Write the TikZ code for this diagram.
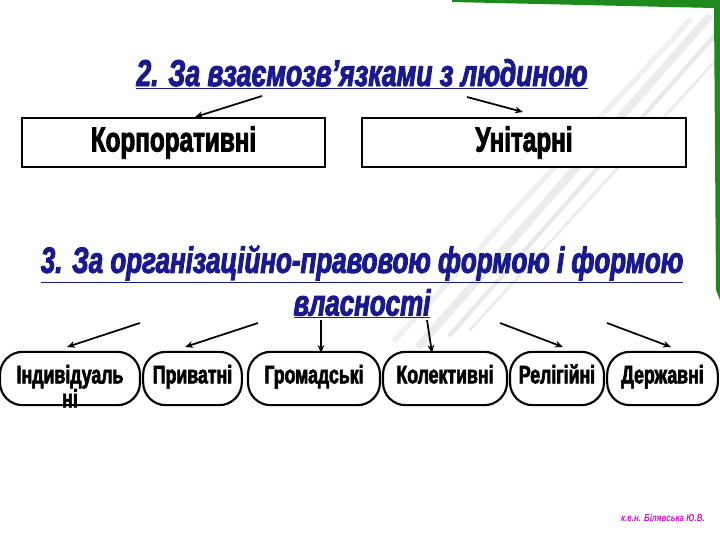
\documentclass[tikz,border=0pt]{standalone}
\usepackage{fontspec}
\usetikzlibrary{arrows.meta}
\newfontfamily\impfont[FakeStretch=0.71,FakeBold=2.5]{Liberation Sans}
\newfontfamily\boxfont[FakeStretch=0.70,FakeBold=2.5]{Liberation Sans}
\newfontfamily\footfont[FakeStretch=0.8]{Liberation Sans}
\definecolor{titleblue}{HTML}{1A1A8F}
\definecolor{framegreen}{HTML}{1E8A1E}
\definecolor{footmag}{HTML}{D010D0}
\tikzset{
  titletext/.style={font=\impfont\bfseries\itshape\fontsize{28}{32}\selectfont, text=titleblue, inner sep=0pt, align=center},
  sqbox/.style={draw=black, line width=1.6pt, fill=white, inner sep=0pt, font=\boxfont\bfseries\fontsize{26}{28}\selectfont},
  rndbox/.style={draw=black, line width=1.6pt, fill=white, rounded corners=17pt, inner sep=0pt, font=\boxfont\bfseries\fontsize{19}{20}\selectfont, align=center, text height=0.9em, text depth=0.18em},
  arr/.style={draw=black, line width=1.3pt, -{Stealth[length=6pt,width=5pt]}},
  stripe/.style={line cap=round}
}
\begin{document}
\begin{tikzpicture}[x=0.75pt,y=-0.75pt]
\useasboundingbox (0,0) rectangle (720,540);
\fill[white] (0,0) rectangle (720,540);
% decorative stripes
\draw[stripe, line width=6pt, draw=gray!15] (708,18) -- (420,345);
\draw[stripe, line width=3pt, draw=gray!18] (715,35) -- (450,335);
\draw[stripe, line width=4pt, draw=gray!12] (690,20) -- (395,340);
\draw[stripe, line width=2pt, draw=gray!16] (716,60) -- (470,330);
% green frame
\fill[framegreen] (452,0) -- (720,0) -- (720,300) -- (716,290) -- (714,8) -- (452,2) -- cycle;
% titles
\node[titletext] (t1) at (362,74) {\underline{2. За взаємозв’язками з людиною}};
\node[titletext, font=\impfont\bfseries\itshape\fontsize{27.4}{32}\selectfont] (t2) at (362,282) {\underline{3. За організаційно-правовою формою і формою}\\[0pt]\underline{власності}};
% boxes row 1
\node[sqbox, minimum width=227pt, minimum height=37pt] (k) at (173.5,142.5) {Корпоративні};
\node[sqbox, minimum width=243pt, minimum height=37pt] (u) at (524,142.5) {Унітарні};
\coordinate (a1s) at (262,96);
\coordinate (a1e) at (195,117);
\coordinate (a2s) at (467,97);
\coordinate (a2e) at (523,112);
\draw[arr] (a1s) -- (a1e);
\draw[arr] (a2s) -- (a2e);
% boxes row 2
\node[rndbox, minimum width=105pt, minimum height=40pt] (b1) at (70,378.5) {\smash{\begin{tabular}[t]{@{}c@{}}Індивідуаль\\[-2pt]ні\end{tabular}}};
\node[rndbox, minimum width=74pt, minimum height=40pt] (b2) at (192.5,378.5) {Приватні};
\node[rndbox, minimum width=99pt, minimum height=40pt] (b3) at (314,378.5) {Громадські};
\node[rndbox, minimum width=93pt, minimum height=40pt] (b4) at (445,378.5) {Колективні};
\node[rndbox, minimum width=70.5pt, minimum height=40pt] (b5) at (557,378.5) {Релігійні};
\node[rndbox, minimum width=83pt, minimum height=40pt] (b6) at (662.5,378.5) {Державні};
\coordinate (c1s) at (140,323); \coordinate (c1e) at (67,347);
\coordinate (c2s) at (258,323); \coordinate (c2e) at (185,347);
\coordinate (c3s) at (321,320); \coordinate (c3e) at (321,353);
\coordinate (c4s) at (427,320); \coordinate (c4e) at (432,353);
\coordinate (c5s) at (500,323); \coordinate (c5e) at (563,347);
\coordinate (c6s) at (607,323); \coordinate (c6e) at (671,347);
\foreach \i in {1,...,6} {\draw[arr] (c\i s) -- (c\i e);}
% footer
\node[font=\footfont\bfseries\itshape\fontsize{7.5}{8}\selectfont, text=footmag, inner sep=0pt] (ft) at (663,518) {к.е.н. Білявська Ю.В.};
\end{tikzpicture}
\end{document}
